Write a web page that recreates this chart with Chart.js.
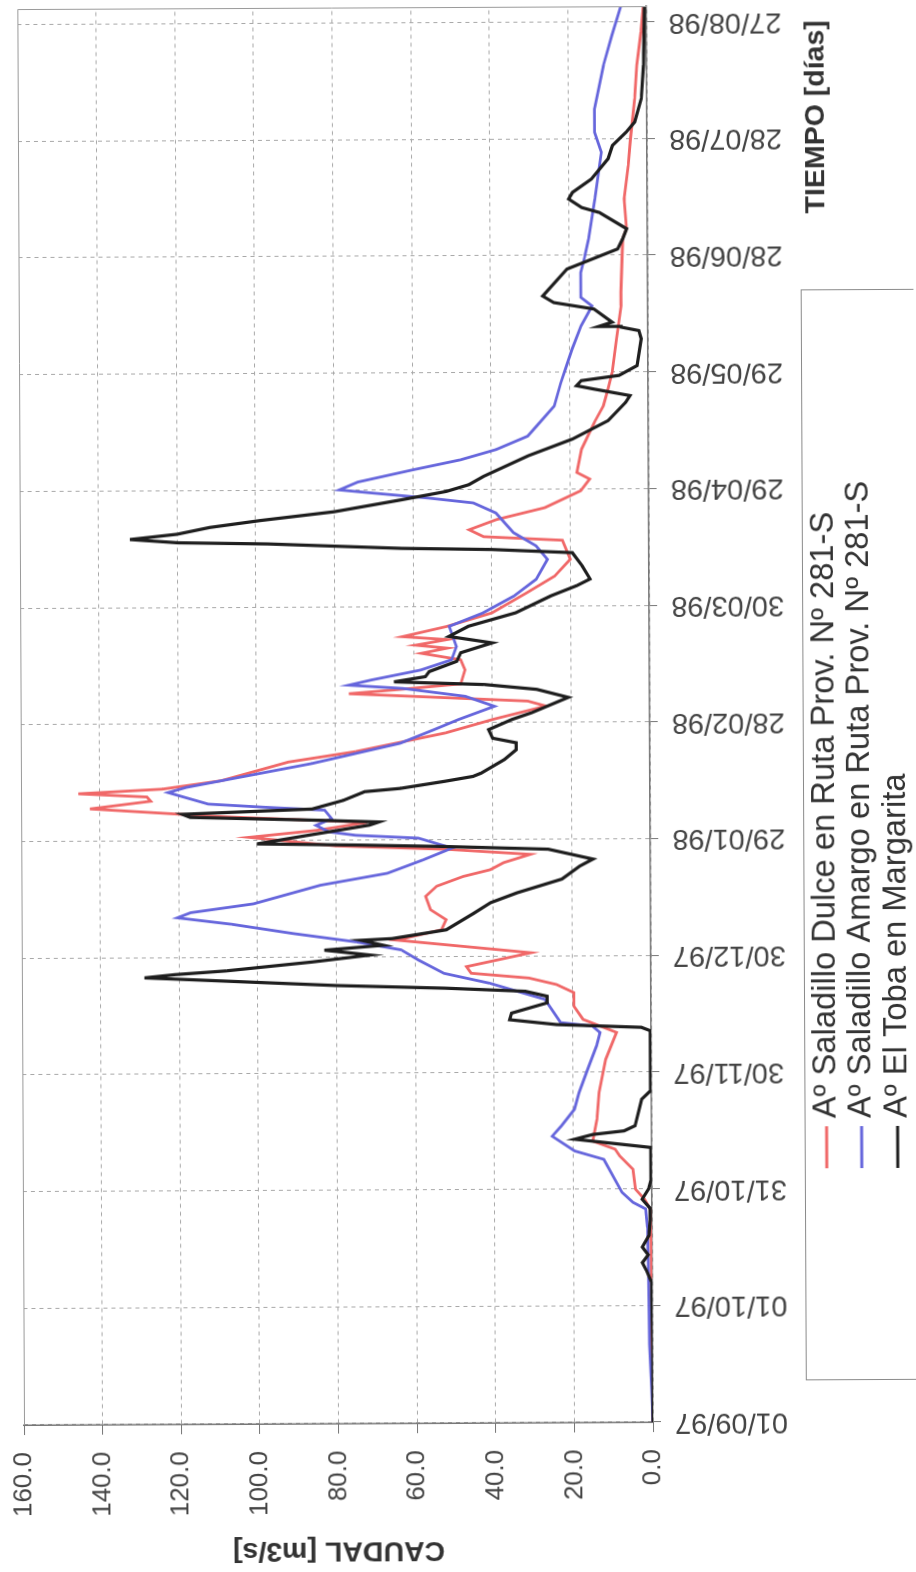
<!DOCTYPE html>
<html>
<head>
<meta charset="utf-8">
<script src="https://cdn.jsdelivr.net/npm/chart.js@4.4.1/dist/chart.umd.min.js"></script>
<style>
  html, body { margin: 0; padding: 0; background: #fff; overflow: hidden; }
  #page { position: absolute; left: 0; top: 0; width: 916px; height: 1572px; transform: rotate(-0.27deg); }
  #wrap { position: absolute; left: 0; top: 0; width: 1572px; height: 916px;
          transform-origin: 0 0; transform: translate(0, 1572px) rotate(-90deg); }
</style>
</head>
<body>
<div id="page"><div id="wrap"><canvas id="caudalChart" width="1572" height="916"></canvas></div></div>
<script>
// días desde 01/09/97
const dateTickDays = [0, 30, 60, 90, 120, 150, 180, 210, 240, 270, 300, 330, 360];
const dateLabels = ['01/09/97', '01/10/97', '31/10/97', '30/11/97', '30/12/97', '29/01/98', '28/02/98',
                    '30/03/98', '29/04/98', '29/05/98', '28/06/98', '28/07/98', '27/08/98'];
const valueTicks = [0, 20, 40, 60, 80, 100, 120, 140, 160];

const seriesNames = ['A\u00ba Saladillo Dulce en Ruta Prov. N\u00ba 281-S',
                     'A\u00ba Saladillo Amargo en Ruta Prov. N\u00ba 281-S',
                     'A\u00ba El Toba en Margarita'];
const xTitle = 'TIEMPO [d\u00edas]';
const yTitle = 'CAUDAL [m3/s]';

// Aº Saladillo Dulce
const redDays = [0, 30, 45, 54.8, 57.3, 59.9, 65, 68.5, 70.2, 72.3, 77.9, 84.8, 93.3, 100.2, 103.6, 107, 110.5, 112.6,
  114.3, 115.6, 117.3, 120.8, 124.2, 126.8, 129.4, 132, 135.4, 138, 140.5, 142.2, 144, 146.1, 147.5, 148.5, 150.8,
  152.5, 154.5, 156.2, 158.3, 160.2, 161.3, 162.2, 163.3, 165.4, 170.1, 172.7, 177.4, 180.8, 184.2, 185.5, 187.6,
  188.7, 190, 193.6, 196.2, 197.9, 199.2, 200, 201.4, 202.2, 204.8, 208.2, 213.4, 217.6, 221.9, 226.8, 227.8, 229.6,
  232.2, 235.2, 239.5, 242.5, 244.2, 250.2, 257.1, 261.3, 265.6, 269.9, 278.5, 287, 290.5, 304.2, 306.8, 314.5, 323,
  329.9, 340.2, 348.8, 357.3, 364];
const redValues = [0, 0.2, 0.3, 0.5, 1.9, 4.2, 4.8, 8.2, 9.3, 15, 13.9, 13.3, 11.6, 8.8, 17.3, 19.6, 19.6, 24,
  31, 45.7, 46.9, 30.5, 64.6, 53.2, 52, 56, 57.2, 54.4, 47.6, 40.7, 37.3, 30.5, 52, 80, 102,
  85, 72, 110, 142.5, 127, 128, 145.4, 124, 109, 92, 75, 52, 40, 26.4, 31, 76.5,
  62.8, 48, 46.9, 48, 58, 51.4, 59.4, 51.4, 62.8, 51.4, 40, 31, 24, 20, 22, 42, 45.7,
  38.7, 26.4, 17.3, 15, 18.2, 17, 13.7, 11.4, 10.2, 9.1, 8, 6.8, 6.8, 6.3, 5.3, 5.9, 4.8,
  4.2, 3.1, 2.5, 1.4, 0.8];

// Aº Saladillo Amargo
const blueDays = [0, 8, 20, 40, 50, 54.8, 56.5, 59.1, 67.6, 69.8, 73.6, 76.2, 80.5, 84.8, 90.8, 96.8, 100.2, 101.9,
  102.8, 108.8, 113, 115.6, 119, 121.7, 123.8, 126, 128.5, 130.2, 131.5, 133.7, 138.4, 141.4, 144.8, 147.8, 150.4,
  151.2, 152.1, 153.8, 155.5, 157.7, 158.5, 159.4, 162.4, 163.7, 166.7, 169.7, 172.2, 174.8, 178.2, 180.8, 184.2,
  186.8, 188.9, 189.8, 191.1, 193.6, 196.2, 199.6, 204.8, 208.2, 212.5, 216.8, 221.9, 225.4, 228.8, 233.9, 236.5,
  237.8, 239.1, 240, 242, 245, 247.6, 250.2, 253.6, 256.2, 261.3, 267.3, 270.8, 275.9, 281.9, 285.8, 287, 289.2,
  295.6, 299.9, 304.2, 314.5, 326.5, 331.6, 337.6, 348.8, 356.5, 364];
const blueValues = [0, 0.3, 0.8, 1, 1.2, 1.6, 4.8, 7.6, 12.2, 19.6, 25.3, 23, 19.6, 18.4, 16.2, 13.9, 13, 15,
  23, 27, 41, 52.6, 59, 63.5, 75, 90.8, 106.7, 120.4, 117, 101, 84, 66.9, 57.8, 50.4, 59,
  74.9, 81.7, 85, 81, 82.8, 97.6, 112.4, 122.6, 118, 102, 86, 75, 63.5, 55, 48.7, 39.5,
  46.9, 62.8, 76.5, 70.8, 58.2, 50.3, 49.1, 50.9, 42.3, 34.4, 28.7, 25.8, 28.7, 34.4, 38.9, 44.6,
  56, 69.6, 78.7, 74, 60.3, 47.8, 38.7, 30.7, 28.4, 23.9, 22.2, 21, 19.3, 17, 14.8, 14.2, 17,
  17, 15.9, 15, 13.3, 11.6, 13.3, 13.3, 11, 8.8, 6.5];

// Aº El Toba
const blackDays = [0, 20, 36, 39, 41, 43, 45, 48, 52, 55, 57.3, 60, 62.4, 70.6, 72.8, 74, 74.9, 76.2, 83, 85.2,
  100.6, 101.5, 102.3, 103.6, 105.3, 107.9, 109.6, 110.9, 111.8, 112.6, 114.8, 115.6, 116.5, 118.7, 120.4, 121.7,
  122.9, 124.2, 124.6, 126.8, 131, 133.7, 136.2, 139.7, 143, 144.8, 147.4, 148.2, 148.7, 149.1, 151.2, 153.8, 154.6,
  155.1, 156, 156.8, 158, 160.2, 162.4, 163.2, 165, 166.2, 167, 170.5, 173, 174.8, 176, 178.2, 180.8, 182.5, 186.4,
  188.5, 189.8, 190.6, 191.9, 193.2, 195.8, 198, 200.5, 202.2, 204.8, 208.2, 212.5, 215.1, 216.8, 220.2, 223.6,
  224.5, 224.9, 226.2, 226.6, 227.5, 228.8, 230.5, 232.2, 234.4, 237.4, 239.5, 241.2, 243.3, 248.5, 252.8, 257.5,
  262.2, 263.9, 265.6, 266.5, 267.8, 269.1, 271.6, 278.5, 280.6, 281.5, 281.7, 282.8, 286.2, 287.9, 289.6, 296.5,
  301.6, 304.2, 306.8, 311, 312.3, 314.5, 316.2, 319.6, 324.8, 328.2, 331.6, 334.2, 340.2, 348.8, 364];
const blackValues = [0, 0, 0.2, 1.5, 2.5, 1, 2.5, 0.8, 0.5, 0.5, 2.5, 0.8, 0.2, 0.2, 19.6, 15, 7, 4.2, 2.5, 0.2,
  0.2, 2.5, 24, 36, 35.5, 26.4, 26.4, 32, 52.6, 80, 128.8, 121, 108, 86, 71.4, 83,
  68, 73.7, 65.8, 52, 45, 40.7, 34, 22.5, 18, 14.6, 26, 52, 75, 100, 87.4, 71.4, 69,
  84, 117, 119, 86, 78, 72.6, 63.5, 52, 45, 43, 37, 34, 34, 40, 41, 35, 30, 20.7,
  28.7, 42, 65, 57, 56, 49, 48, 40, 51, 46, 34, 25, 18.4, 15, 17, 19.5,
  40, 62.8, 97, 119.7, 132, 120, 111.7, 99, 80, 62.8, 51.4, 45.7, 42, 30.7, 19.3, 10.2,
  5.7, 4.6, 13.7, 18.2, 17, 7.4, 2.8, 1.7, 2.3, 6.8, 12.5, 9.1, 13.7, 23.9, 26.7, 20.5,
  7.6, 6.3, 5.3, 12.2, 16.7, 20, 19, 14.2, 9.9, 8.8, 5.3, 3.1, 1.4, 0.8, 0.5];

const seriesColors = ['#f06868', '#6666dc', '#1e1e1e'];
const seriesWidths = [2.8, 2.8, 3.2];

function toPoints(days, values) {
  return days.map((d, i) => ({ x: d, y: values[i] }));
}

// marco, títulos y leyenda con recuadro
const decor = {
  id: 'decor',
  afterDraw(chart) {
    const { ctx, chartArea: a } = chart;
    ctx.save();
    ctx.strokeStyle = '#9a9a9a';
    ctx.lineWidth = 1;
    ctx.beginPath();
    ctx.moveTo(a.left, a.top + 0.5);
    ctx.lineTo(a.right - 0.5, a.top + 0.5);
    ctx.lineTo(a.right - 0.5, a.bottom);
    ctx.stroke();

    ctx.fillStyle = '#333';
    ctx.font = 'bold 28.5px "Liberation Sans", Arial, sans-serif';
    ctx.textBaseline = 'middle';
    ctx.textAlign = 'right';
    ctx.fillText(xTitle, 1550, 819);

    ctx.save();
    ctx.translate(22, (a.top + a.bottom) / 2);
    ctx.rotate(-Math.PI / 2);
    ctx.textAlign = 'center';
    ctx.fillText(yTitle, 0, 0);
    ctx.restore();

    // leyenda
    ctx.fillStyle = '#fff';
    ctx.fillRect(190.5, 803.5, 1090, 130);
    ctx.strokeStyle = '#8a8a8a';
    ctx.lineWidth = 1;
    ctx.strokeRect(190.5, 803.5, 1090, 130);
    ctx.font = '32.7px "Liberation Sans", Arial, sans-serif';
    ctx.textAlign = 'left';
    const rows = [825, 860, 896];
    seriesNames.forEach((name, i) => {
      ctx.strokeStyle = seriesColors[i];
      ctx.lineWidth = seriesWidths[i];
      ctx.beginPath();
      ctx.moveTo(402, rows[i]);
      ctx.lineTo(444, rows[i]);
      ctx.stroke();
      ctx.fillStyle = '#333';
      ctx.fillText(name, 452, rows[i]);
    });
    ctx.restore();
  }
};

const ctx = document.getElementById('caudalChart').getContext('2d');
new Chart(ctx, {
  type: 'line',
  data: {
    datasets: [{
      label: seriesNames[0],
      data: toPoints(redDays, redValues),
      borderColor: seriesColors[0],
      borderWidth: seriesWidths[0],
      pointRadius: 0,
      tension: 0,
      order: 3
    }, {
      label: seriesNames[1],
      data: toPoints(blueDays, blueValues),
      borderColor: seriesColors[1],
      borderWidth: seriesWidths[1],
      pointRadius: 0,
      tension: 0,
      order: 2
    }, {
      label: seriesNames[2],
      data: toPoints(blackDays, blackValues),
      borderColor: seriesColors[2],
      borderWidth: seriesWidths[2],
      pointRadius: 0,
      tension: 0,
      order: 1
    }]
  },
  options: {
    responsive: false,
    animation: false,
    layout: { padding: { left: 0, right: 7, top: 21, bottom: 0 } },
    plugins: { legend: { display: false }, tooltip: { enabled: false } },
    scales: {
      x: {
        type: 'linear',
        min: 0,
        max: 364,
        afterBuildTicks: s => { s.ticks = dateTickDays.map(v => ({ value: v })); },
        afterFit: s => { s.height = 266; s.paddingLeft = 0; s.paddingRight = 0; },
        ticks: {
          autoSkip: false,
          minRotation: 90,
          maxRotation: 90,
          padding: 14,
          color: '#444',
          font: { family: 'Liberation Sans', size: 29 },
          callback: (v, i) => dateLabels[i]
        },
        grid: { color: '#a8a8a8', lineWidth: 1, tickLength: 8, tickColor: '#777' },
        border: { color: '#777', width: 1.5, dash: [4, 4] }
      },
      y: {
        min: 0,
        max: 160,
        afterBuildTicks: s => { s.ticks = valueTicks.map(v => ({ value: v })); },
        afterFit: s => { s.width = 149; s.paddingTop = 0; s.paddingBottom = 0; },
        ticks: {
          padding: 17,
          color: '#444',
          font: { family: 'Liberation Sans', size: 26 },
          callback: v => Number(v).toFixed(1)
        },
        grid: { color: '#a8a8a8', lineWidth: 1, tickLength: 10, tickColor: '#777' },
        border: { color: '#777', width: 1.5, dash: [4, 4] }
      }
    }
  },
  plugins: [decor]
});
</script>
</body>
</html>
